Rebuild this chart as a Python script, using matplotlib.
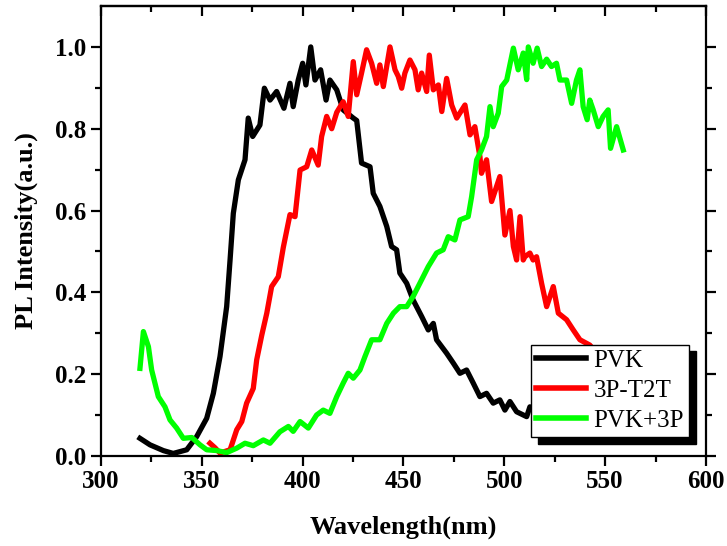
import numpy as np
import matplotlib
matplotlib.use("Agg")
import matplotlib.pyplot as plt

# PL spectra
pvk_wl = [319.3, 324.3, 330.9, 335.8, 342.5, 347.4, 352.4, 355.7, 359, 362.3,
          364, 365.6, 368.1, 371.4, 373, 375.2, 378.8, 381, 383.8, 387.1,
          390.7, 393.7, 395.3, 397.8, 400, 401.6, 404, 406.1, 408.9, 411.6,
          413.5, 416.9, 420.1, 425.1, 426.8, 429.2, 433.4, 435, 438.3, 441.7,
          444.1, 446.6, 448.2, 451.6, 454.8, 459, 462.3, 464.8, 466.4, 471.4,
          474.7, 478, 481.3, 484.6, 487.9, 491.2, 494.5, 497.8, 500.3, 502.8,
          506.1, 511.1, 512.7, 518, 525, 535, 545, 555, 560]
pvk_int = [0.043, 0.027, 0.013, 0.006, 0.015, 0.047, 0.092, 0.153, 0.243, 0.365,
           0.48, 0.593, 0.675, 0.724, 0.826, 0.781, 0.809, 0.899, 0.870, 0.891,
           0.850, 0.911, 0.854, 0.919, 0.960, 0.907, 1.0, 0.919, 0.944, 0.870,
           0.919, 0.895, 0.846, 0.826, 0.82, 0.716, 0.707, 0.642, 0.610, 0.561,
           0.512, 0.504, 0.447, 0.422, 0.381, 0.341, 0.308, 0.324, 0.284, 0.251,
           0.227, 0.202, 0.21, 0.178, 0.145, 0.153, 0.129, 0.137, 0.112, 0.133,
           0.108, 0.096, 0.12, 0.10, 0.09, 0.08, 0.075, 0.07, 0.07]

t2t_wl = [354, 356.5, 359, 364, 367.3, 369.8, 372.2, 375.5, 377.2, 379.7,
          382.2, 384.6, 387.9, 390.4, 393.7, 396.2, 398.7, 402, 404.5, 407.7,
          409.4, 411.9, 414.4, 416.9, 420.1, 422.6, 425.1, 426.8, 429.2, 431.7,
          434.2, 436.7, 438.3, 440, 443.3, 445.8, 447.4, 449.1, 450.7, 453.2,
          455.7, 457.3, 459, 461.5, 462.8, 464.8, 467.3, 469, 471.4, 473.9,
          476.4, 480.5, 483, 485.4, 487.9, 488.7, 491.2, 493.7, 497.8, 500.3,
          502.8, 504.5, 506.1, 507.8, 509.4, 510.2, 512.7, 514.3, 516, 518.5,
          521, 524.3, 526.8, 530.9, 534.2, 537.5, 542.4, 546, 550, 555, 560]
t2t_int = [0.031, 0.02, 0.007, 0.015, 0.064, 0.084, 0.129, 0.165, 0.235, 0.295,
           0.349, 0.414, 0.438, 0.51, 0.59, 0.585, 0.699, 0.707, 0.748, 0.711,
           0.781, 0.830, 0.80, 0.84, 0.866, 0.830, 0.964, 0.883, 0.936, 0.993,
           0.960, 0.911, 0.956, 0.903, 1.0, 0.944, 0.928, 0.899, 0.936, 0.968,
           0.944, 0.895, 0.936, 0.891, 0.980, 0.895, 0.907, 0.842, 0.923, 0.858,
           0.826, 0.858, 0.785, 0.805, 0.732, 0.691, 0.724, 0.622, 0.683, 0.54,
           0.60, 0.512, 0.479, 0.585, 0.479, 0.487, 0.496, 0.479, 0.487, 0.422,
           0.365, 0.414, 0.349, 0.333, 0.308, 0.284, 0.271, 0.25, 0.23, 0.21, 0.19]

mix_wl = [319.3, 321, 323.5, 325.1, 328.4, 331.7, 334.2, 337.5, 340.8, 345,
          349.1, 352.4, 357.4, 362.3, 367.3, 371.4, 375.5, 380.5, 383.8, 388.7,
          392.9, 395.3, 398.7, 402.8, 406.9, 410.2, 413.5, 416.9, 420.1, 422.6,
          425.1, 428.4, 430.9, 434.2, 438.3, 441.7, 445, 448.2, 451.6, 454.8,
          458.1, 462.3, 466.4, 469.7, 472.2, 475.5, 478, 482.1, 483.8, 486.3,
          488.7, 491.2, 492.9, 494.5, 497, 498.7, 501.2, 504.5, 506.9, 509.4,
          511.1, 511.9, 514.3, 516.3, 518.5, 521, 523.4, 525.9, 527.6, 530.9,
          533.4, 535.8, 537.5, 539.1, 541.1, 542.4, 544.1, 546.6, 549, 551.5,
          552.7, 555.7, 559]
mix_int = [0.214, 0.304, 0.267, 0.21, 0.145, 0.12, 0.088, 0.068, 0.043, 0.045,
           0.027, 0.015, 0.013, 0.008, 0.019, 0.031, 0.025, 0.039, 0.031, 0.059,
           0.072, 0.06, 0.084, 0.068, 0.1, 0.112, 0.104, 0.145, 0.178, 0.202,
           0.19, 0.21, 0.243, 0.284, 0.284, 0.324, 0.349, 0.365, 0.365, 0.39,
           0.422, 0.463, 0.496, 0.504, 0.536, 0.528, 0.577, 0.585, 0.634, 0.724,
           0.748, 0.781, 0.854, 0.805, 0.838, 0.903, 0.919, 0.997, 0.944, 0.985,
           0.92, 1.0, 0.960, 0.997, 0.952, 0.97, 0.952, 0.960, 0.919, 0.919,
           0.862, 0.919, 0.944, 0.854, 0.822, 0.87, 0.846, 0.805, 0.83, 0.846,
           0.752, 0.805, 0.748]

labels = ["PVK", "3P-T2T", "PVK+3P"]
colors = ["#000000", "#ff0000", "#00ff00"]

plt.rcParams['font.family'] = ['Liberation Serif', 'DejaVu Serif']

fig = plt.figure(figsize=(7.27, 5.46), dpi=100)
ax = fig.add_axes([0.139, 0.165, 0.832, 0.824])

for wl, it, lab, c in zip([pvk_wl, t2t_wl, mix_wl], [pvk_int, t2t_int, mix_int],
                          labels, colors):
    ax.plot(wl, it, color=c, lw=3.8, label=lab, solid_joinstyle='round')

ax.set_xlim(300, 600)
ax.set_ylim(0, 1.1)
ax.set_xticks(np.arange(300, 601, 50))
ax.set_xticks(np.arange(325, 600, 50), minor=True)
ax.set_yticks(np.arange(0, 1.01, 0.2))
ax.set_yticks(np.arange(0.1, 1.1, 0.2), minor=True)
ax.set_yticklabels([f"{v:.1f}" for v in np.arange(0, 1.01, 0.2)])

for s in ax.spines.values():
    s.set_linewidth(1.6)

ax.tick_params(axis='both', which='major', direction='out', length=7, width=1.6,
               labelsize=18)
ax.tick_params(axis='both', which='minor', direction='out', length=4, width=1.6)
ax.tick_params(axis='y', which='both', right=True)
for t in ax.get_xticklabels() + ax.get_yticklabels():
    t.set_fontweight('bold')

top = ax.secondary_xaxis('top')
top.set_xticks(np.arange(300, 601, 50))
top.set_xticks(np.arange(325, 600, 50), minor=True)
top.tick_params(which='major', direction='in', length=7, width=1.6, labeltop=False)
top.tick_params(which='minor', direction='in', length=4, width=1.6)
top.spines['top'].set_linewidth(1.6)

ax.set_xlabel("Wavelength(nm)", fontsize=19, fontweight='bold', labelpad=16)
ax.set_ylabel("PL Intensity(a.u.)", fontsize=19, fontweight='bold', labelpad=12)

leg = ax.legend(loc='lower right', bbox_to_anchor=(0.972, 0.042), borderaxespad=0,
                fontsize=18, fancybox=False, edgecolor='black', framealpha=1,
                handlelength=2.0, handletextpad=0.3, labelspacing=0.3,
                borderpad=0.2,
                shadow={'ox': 5, 'oy': -5, 'color': 'black', 'alpha': 1})
leg.get_frame().set_linewidth(1.0)
for h in leg.get_lines():
    h.set_linewidth(4)

fig.savefig("out.png", dpi=100)
